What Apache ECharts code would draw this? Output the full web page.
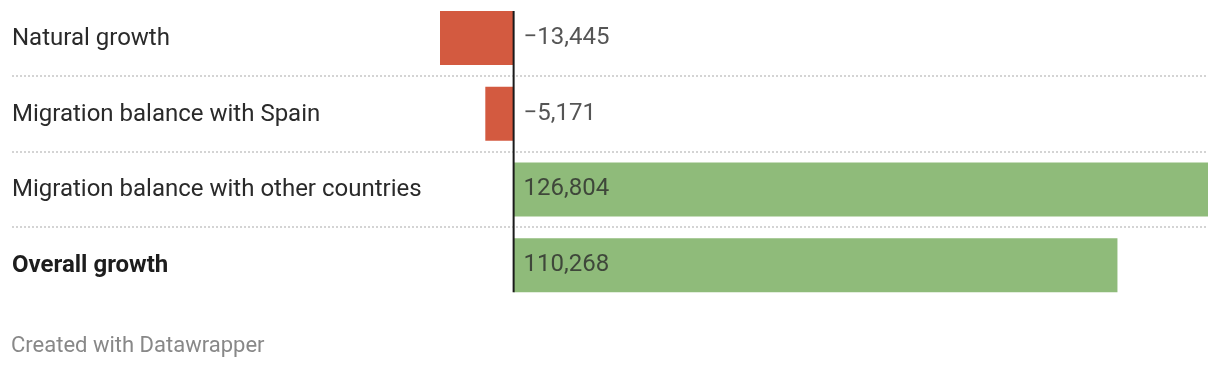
<!DOCTYPE html>
<html><head><meta charset="utf-8">
<script src="https://cdn.jsdelivr.net/npm/echarts@6/dist/echarts.min.js"></script>
<style>html,body{margin:0;padding:0;background:#fff}#c{width:1220px;height:368px}</style>
</head><body><div id="c"></div>
<script>
const categories = ['Natural growth', 'Migration balance with Spain', 'Migration balance with other countries', 'Overall growth'];
const values = [-13445, -5171, 126804, 110268];
const boldCategory = 'Overall growth';
const negColor = '#d35a40';
const posColor = '#8fbb7a';

function fmt(v){
  const s = Math.abs(v).toLocaleString('en-US');
  return (v < 0 ? '\u2212' : '') + s;
}

const chart = echarts.init(document.getElementById('c'), null, {renderer:'canvas'});
const xMin = Math.min(0, ...values), xMax = Math.max(0, ...values);
const option = {
  animation:false,
  grid:{left:440, right:12, top:-1, height:304},
  xAxis:{type:'value', min:xMin, max:xMax, show:false},
  yAxis:{type:'category', data:categories, inverse:true,
    axisLine:{show:false}, axisTick:{show:false}, splitLine:{show:false},
    axisLabel:{align:'left', margin:428, fontFamily:'Roboto', fontSize:24, color:'#2a2a2a', padding:[2,0,0,0],
      formatter:(v)=> v===boldCategory ? '{b|'+v+'}' : v,
      rich:{b:{fontFamily:'Roboto', fontSize:24, fontWeight:'bold', color:'#1d1d1d'}}}
  },
  series:[
    {type:'bar', barWidth:54, silent:true,
     data: values.map(v=>({value:v, itemStyle:{color: v<0?negColor:posColor}}))},
    {type:'scatter', symbolSize:0, silent:true,
     data: categories.map((c,i)=>[0,c]),
     label:{show:true, position:'right', distance:10, fontFamily:'Roboto', fontSize:24, color:'#2a2a2a', padding:[2,0,0,0],
       formatter:(p)=>fmt(values[p.dataIndex])}}
  ]
};
chart.setOption(option);

const gfx = [];
const yTop = i => chart.convertToPixel({yAxisIndex:0}, i);
const barHalf = 27;
for (let i=0;i<categories.length-1;i++){
  const y = Math.round((yTop(i)+yTop(i+1))/2);
  gfx.push({type:'line', shape:{x1:12,y1:y,x2:chart.convertToPixel({xAxisIndex:0}, xMax),y2:y},
    style:{stroke:'#d4d4d4', lineWidth:2, lineDash:[2,2]}, z:1});
}
const x0 = chart.convertToPixel({xAxisIndex:0}, 0);
gfx.push({type:'line', shape:{x1:x0,y1:yTop(0)-barHalf,x2:x0,y2:yTop(categories.length-1)+barHalf},
  style:{stroke:'#1a1a1a', lineWidth:2}, z:10});
gfx.push({type:'text', left:11, top:335, style:{text:'Created with Datawrapper', fontFamily:'Roboto', fontSize:22, fill:'#888'}});
chart.setOption({graphic:gfx});
</script></body></html>
